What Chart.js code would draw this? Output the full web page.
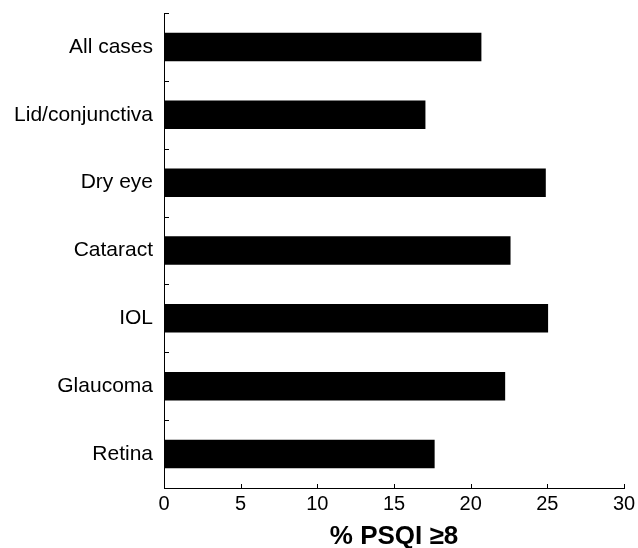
<!DOCTYPE html>
<html>
<head>
<meta charset="utf-8">
<script src="https://cdn.jsdelivr.net/npm/chart.js@4"></script>
<style>
  html, body { margin: 0; padding: 0; background: #fff; }
  #wrap { width: 638px; height: 548px; }
</style>
</head>
<body>
<div id="wrap"><canvas id="graphiquePSQI" width="638" height="548"></canvas></div>
<script>
// categories and values (% with PSQI >= 8)
var categories = ['All cases', 'Lid/conjunctiva', 'Dry eye', 'Cataract', 'IOL', 'Glaucoma', 'Retina'];
var pourcentages = [20.7, 17.05, 24.9, 22.6, 25.05, 22.25, 17.65];
var ticksX = [0, 5, 10, 15, 20, 25, 30];
var titreX = '% PSQI \u22658';

// small inward ticks, like the original figure
var petitsTraits = {
  id: 'petitsTraits',
  afterDraw: function(chart) {
    var ctx = chart.ctx;
    var sx = chart.scales.x, sy = chart.scales.y;
    ctx.save();
    ctx.strokeStyle = '#000';
    ctx.lineWidth = 1;
    ctx.beginPath();
    for (var i = 0; i <= categories.length; i++) {
      var py = Math.round(sy.getPixelForValue(i - 0.5)) + 0.5;
      ctx.moveTo(sx.left, py);
      ctx.lineTo(sx.left + 5, py);
    }
    sx.ticks.forEach(function(t, i) {
      var px = Math.round(sx.getPixelForTick(i)) + 0.5;
      ctx.moveTo(px, sy.bottom);
      ctx.lineTo(px, sy.bottom - 4);
    });
    ctx.stroke();
    ctx.restore();
  }
};

var ctx = document.getElementById('graphiquePSQI').getContext('2d');
var graphique = new Chart(ctx, {
  type: 'bar',
  data: {
    labels: categories,
    datasets: [{
      label: titreX,
      data: pourcentages,
      backgroundColor: '#000',
      borderWidth: 0,
      barPercentage: 0.42,
      categoryPercentage: 1
    }]
  },
  options: {
    indexAxis: 'y',
    responsive: false,
    animation: false,
    layout: { padding: { top: 13, right: 14, left: 0, bottom: 0 } },
    plugins: { legend: { display: false }, tooltip: { enabled: false } },
    scales: {
      x: {
        min: 0, max: 30,
        afterBuildTicks: function(scale) {
          scale.ticks = ticksX.map(function(v) { return { value: v }; });
        },
        afterFit: function(scale) { scale.height = 60; scale.paddingRight = 0; },
        grid: { display: false, tickLength: 0 },
        border: { display: true, color: '#000', width: 1 },
        ticks: { color: '#000', padding: 4, font: { family: 'Liberation Sans', size: 20 }, maxRotation: 0 },
        title: {
          display: true, text: titreX, color: '#000',
          font: { family: 'Liberation Sans', size: 26, weight: 'bold', lineHeight: 0.85 },
          padding: { top: 0, bottom: 0 }
        }
      },
      y: {
        afterFit: function(scale) { scale.width = 164; scale.paddingTop = 0; scale.paddingBottom = 0; },
        grid: { display: false, tickLength: 0 },
        border: { display: true, color: '#000', width: 1 },
        ticks: { color: '#000', padding: 11, font: { family: 'Liberation Sans', size: 21 } }
      }
    }
  },
  plugins: [petitsTraits]
});
</script>
</body>
</html>
